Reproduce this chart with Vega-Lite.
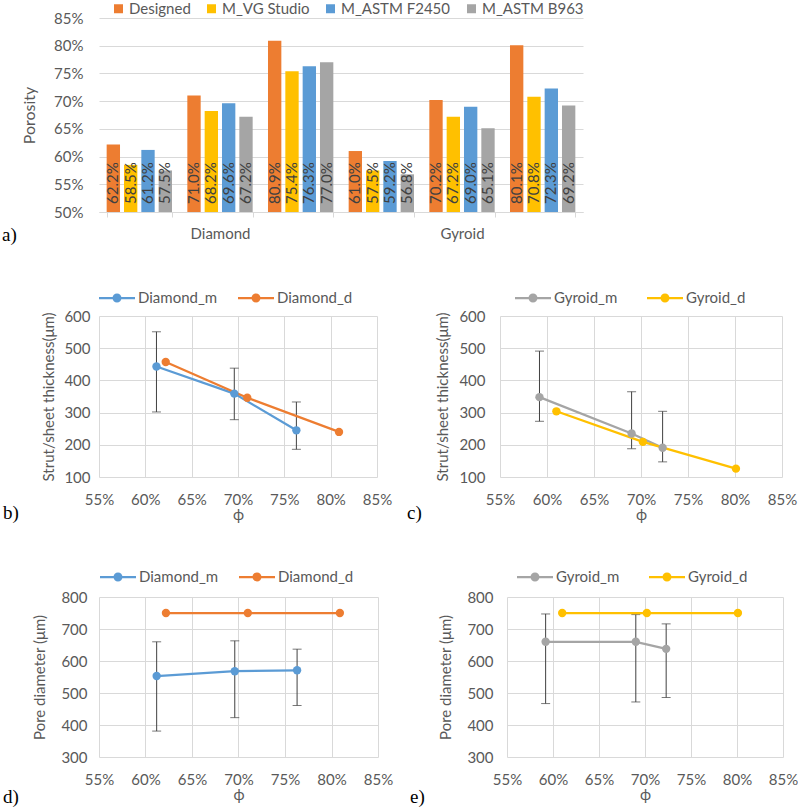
{
  "$schema": "https://vega.github.io/schema/vega-lite/v6.json",
  "background": "white",
  "padding": {"left": 2, "top": 1, "right": 0, "bottom": 0},
  "config": {
    "view": {"stroke": null},
    "font": "Lato",
    "axis": {
      "labelFont": "Lato", "labelFontSize": 15, "labelColor": "#595959", "labelOverlap": false, "labelFlush": false,
      "titleFont": "Lato", "titleFontSize": 15, "titleColor": "#595959", "titleFontWeight": "normal",
      "gridColor": "#d9d9d9", "domainColor": "#d9d9d9", "tickColor": "#d9d9d9"
    },
    "legend": {"labelFont": "Lato", "labelFontSize": 15, "labelColor": "#595959"},
    "title": {"font": "Liberation Serif", "fontSize": 19, "fontWeight": "normal", "color": "#000000"}
  },
  "datasets": {
    "bars": [
      {"group": "D1", "method": "Designed", "value": 0.622},
      {"group": "D1", "method": "M_VG Studio", "value": 0.585},
      {"group": "D1", "method": "M_ASTM F2450", "value": 0.612},
      {"group": "D1", "method": "M_ASTM B963", "value": 0.575},
      {"group": "D2", "method": "Designed", "value": 0.710},
      {"group": "D2", "method": "M_VG Studio", "value": 0.682},
      {"group": "D2", "method": "M_ASTM F2450", "value": 0.696},
      {"group": "D2", "method": "M_ASTM B963", "value": 0.672},
      {"group": "D3", "method": "Designed", "value": 0.809},
      {"group": "D3", "method": "M_VG Studio", "value": 0.754},
      {"group": "D3", "method": "M_ASTM F2450", "value": 0.763},
      {"group": "D3", "method": "M_ASTM B963", "value": 0.770},
      {"group": "G1", "method": "Designed", "value": 0.610},
      {"group": "G1", "method": "M_VG Studio", "value": 0.575},
      {"group": "G1", "method": "M_ASTM F2450", "value": 0.592},
      {"group": "G1", "method": "M_ASTM B963", "value": 0.568},
      {"group": "G2", "method": "Designed", "value": 0.702},
      {"group": "G2", "method": "M_VG Studio", "value": 0.672},
      {"group": "G2", "method": "M_ASTM F2450", "value": 0.690},
      {"group": "G2", "method": "M_ASTM B963", "value": 0.651},
      {"group": "G3", "method": "Designed", "value": 0.801},
      {"group": "G3", "method": "M_VG Studio", "value": 0.708},
      {"group": "G3", "method": "M_ASTM F2450", "value": 0.723},
      {"group": "G3", "method": "M_ASTM B963", "value": 0.692}
    ],
    "b": [
      {"series": "Diamond_m", "phi": 0.612, "v": 443, "lo": 302, "hi": 551},
      {"series": "Diamond_m", "phi": 0.696, "v": 359, "lo": 278, "hi": 438},
      {"series": "Diamond_m", "phi": 0.763, "v": 245, "lo": 186, "hi": 333},
      {"series": "Diamond_d", "phi": 0.622, "v": 457},
      {"series": "Diamond_d", "phi": 0.710, "v": 346},
      {"series": "Diamond_d", "phi": 0.809, "v": 240}
    ],
    "c": [
      {"series": "Gyroid_m", "phi": 0.592, "v": 348, "lo": 273, "hi": 491},
      {"series": "Gyroid_m", "phi": 0.690, "v": 235, "lo": 188, "hi": 365},
      {"series": "Gyroid_m", "phi": 0.723, "v": 191, "lo": 147, "hi": 304},
      {"series": "Gyroid_d", "phi": 0.610, "v": 304},
      {"series": "Gyroid_d", "phi": 0.702, "v": 209},
      {"series": "Gyroid_d", "phi": 0.801, "v": 126}
    ],
    "d": [
      {"series": "Diamond_m", "phi": 0.612, "v": 553, "lo": 381, "hi": 660},
      {"series": "Diamond_m", "phi": 0.696, "v": 568, "lo": 423, "hi": 663},
      {"series": "Diamond_m", "phi": 0.763, "v": 571, "lo": 461, "hi": 637},
      {"series": "Diamond_d", "phi": 0.622, "v": 750},
      {"series": "Diamond_d", "phi": 0.710, "v": 750},
      {"series": "Diamond_d", "phi": 0.809, "v": 750}
    ],
    "e": [
      {"series": "Gyroid_m", "phi": 0.592, "v": 660, "lo": 467, "hi": 747},
      {"series": "Gyroid_m", "phi": 0.690, "v": 660, "lo": 472, "hi": 745},
      {"series": "Gyroid_m", "phi": 0.723, "v": 638, "lo": 486, "hi": 716},
      {"series": "Gyroid_d", "phi": 0.610, "v": 750},
      {"series": "Gyroid_d", "phi": 0.702, "v": 750},
      {"series": "Gyroid_d", "phi": 0.801, "v": 750}
    ]
  },
  "spacing": 35,
  "resolve": {"scale": {"color": "independent"}, "legend": {"color": "independent"}},
  "vconcat": [
    {
      "width": 484, "height": 194,
      "data": {"name": "bars"},
      "title": {"text": "a)", "orient": "bottom", "anchor": "start", "frame": "group", "dx": -97, "dy": -19},
      "encoding": {
        "x": {"field": "group", "type": "nominal", "sort": ["D1", "D2", "D3", "G1", "G2", "G3"],
          "scale": {"paddingInner": 0.19, "paddingOuter": 0.095},
          "axis": {"title": null, "labelAngle": 0, "labelExpr": "datum.value == 'D2' ? 'Diamond' : datum.value == 'G2' ? 'Gyroid' : ''",
            "tickBand": "extent", "ticks": true, "tickSize": 5, "labelPadding": 9, "domain": true, "grid": false}},
        "xOffset": {"field": "method", "type": "nominal", "sort": ["Designed", "M_VG Studio", "M_ASTM F2450", "M_ASTM B963"],
          "scale": {"paddingInner": 0.23, "paddingOuter": 0}}
      },
      "layer": [
        {
          "mark": {"type": "bar"},
          "encoding": {
            "y": {"field": "value", "type": "quantitative", "title": "Porosity",
              "scale": {"domain": [0.5, 0.85], "nice": false, "zero": false},
              "axis": {"values": [0.5, 0.55, 0.6, 0.65, 0.7, 0.75, 0.8, 0.85], "tickCount": 20, "format": ".0%", "grid": true, "domain": false, "ticks": false,
                "labelPadding": 16, "titlePadding": 16, "titleFontSize": 16}},
            "y2": {"datum": 0.5},
            "color": {"field": "method", "type": "nominal",
              "scale": {"domain": ["Designed", "M_VG Studio", "M_ASTM F2450", "M_ASTM B963"], "range": ["#ED7D31", "#FFC000", "#5B9BD5", "#A5A5A5"]},
              "legend": {"orient": "none", "legendX": 12, "legendY": -17, "direction": "horizontal", "title": null,
                "symbolType": "square", "symbolSize": 81, "symbolStrokeWidth": 0, "columnPadding": 13, "labelOffset": 3}}
          }
        },
        {
          "mark": {"type": "text", "angle": 270, "align": "left", "baseline": "middle", "dx": 8, "fontSize": 15, "color": "#404040"},
          "encoding": {
            "y": {"datum": 0.5, "type": "quantitative", "title": "Porosity"},
            "text": {"field": "value", "type": "quantitative", "format": ".1%"}
          }
        }
      ]
    },
    {
      "spacing": 36,
      "resolve": {"scale": {"color": "independent"}, "legend": {"color": "independent"}},
      "vconcat": [
        {
          "spacing": 15,
          "resolve": {"scale": {"color": "independent"}, "legend": {"color": "independent"}},
          "hconcat": [
            {
              "width": 278, "height": 161,
              "data": {"name": "b"},
              "title": {"text": "b)", "orient": "bottom", "anchor": "start", "frame": "group", "dx": -96, "dy": -22},
              "encoding": {
                "x": {"field": "phi", "type": "quantitative", "scale": {"domain": [0.55, 0.85], "nice": false, "zero": false},
                  "axis": {"values": [0.55, 0.6, 0.65, 0.7, 0.75, 0.8, 0.85], "tickCount": 20, "format": ".0%", "title": "ϕ", "grid": true, "domain": false, "ticks": false, "labelPadding": 15, "titlePadding": 0}}
              },
              "layer": [
                {
                  "transform": [{"filter": "isValid(datum.lo)"}],
                  "mark": {"type": "errorbar", "ticks": {"size": 9, "color": "#404040"}, "rule": {"color": "#404040"}, "thickness": 1, "color": "#404040"},
                  "encoding": {"y": {"field": "lo", "type": "quantitative", "title": "Strut/sheet thickness(μm)"}, "y2": {"field": "hi"}}
                },
                {
                  "mark": {"type": "line", "strokeWidth": 2.25},
                  "encoding": {
                    "y": {"field": "v", "type": "quantitative", "title": "Strut/sheet thickness(μm)"},
                    "color": {"field": "series", "type": "nominal", "scale": {"domain": ["Diamond_m", "Diamond_d"], "range": ["#5B9BD5", "#ED7D31"]},
                      "legend": {"orient": "none", "legendX": 0, "legendY": -36, "direction": "horizontal", "title": null,
                        "symbolType": "M-1,-0.0625L-0.24,-0.0625L-0.24,0.0625L-1,0.0625Z M0.24,-0.0625L1,-0.0625L1,0.0625L0.24,0.0625Z M-0.25,0A0.25,0.25 0 1,1 0.25,0A0.25,0.25 0 1,1 -0.25,0Z",
                        "symbolSize": 1296, "symbolStrokeWidth": 0, "columnPadding": 20, "labelOffset": 3}}
                  }
                },
                {
                  "mark": {"type": "point", "filled": true, "size": 70, "opacity": 1},
                  "encoding": {
                    "y": {"field": "v", "type": "quantitative", "title": "Strut/sheet thickness(μm)",
                      "scale": {"domain": [100, 600], "nice": false, "zero": false},
                      "axis": {"values": [100, 200, 300, 400, 500, 600], "tickCount": 20, "grid": true, "domain": false, "ticks": false, "labelPadding": 9, "titlePadding": 7}},
                    "color": {"field": "series", "type": "nominal", "scale": {"domain": ["Diamond_m", "Diamond_d"], "range": ["#5B9BD5", "#ED7D31"]},
                      "legend": {"orient": "none", "legendX": 0, "legendY": -36, "direction": "horizontal", "title": null,
                        "symbolType": "M-1,-0.0625L-0.24,-0.0625L-0.24,0.0625L-1,0.0625Z M0.24,-0.0625L1,-0.0625L1,0.0625L0.24,0.0625Z M-0.25,0A0.25,0.25 0 1,1 0.25,0A0.25,0.25 0 1,1 -0.25,0Z",
                        "symbolSize": 1296, "symbolStrokeWidth": 0, "columnPadding": 20, "labelOffset": 3}}
                  }
                }
              ]
            },
            {
              "width": 282, "height": 161,
              "data": {"name": "c"},
              "title": {"text": "c)", "orient": "bottom", "anchor": "start", "frame": "group", "dx": -93, "dy": -22},
              "encoding": {
                "x": {"field": "phi", "type": "quantitative", "scale": {"domain": [0.55, 0.85], "nice": false, "zero": false},
                  "axis": {"values": [0.55, 0.6, 0.65, 0.7, 0.75, 0.8, 0.85], "tickCount": 20, "format": ".0%", "title": "ϕ", "grid": true, "domain": false, "ticks": false, "labelPadding": 15, "titlePadding": 0}}
              },
              "layer": [
                {
                  "transform": [{"filter": "isValid(datum.lo)"}],
                  "mark": {"type": "errorbar", "ticks": {"size": 9, "color": "#404040"}, "rule": {"color": "#404040"}, "thickness": 1, "color": "#404040"},
                  "encoding": {"y": {"field": "lo", "type": "quantitative", "title": "Strut/sheet thickness(μm)"}, "y2": {"field": "hi"}}
                },
                {
                  "mark": {"type": "line", "strokeWidth": 2.25},
                  "encoding": {
                    "y": {"field": "v", "type": "quantitative", "title": "Strut/sheet thickness(μm)"},
                    "color": {"field": "series", "type": "nominal", "scale": {"domain": ["Gyroid_m", "Gyroid_d"], "range": ["#A5A5A5", "#FFC000"]},
                      "legend": {"orient": "none", "legendX": 15, "legendY": -36, "direction": "horizontal", "title": null,
                        "symbolType": "M-1,-0.0625L-0.24,-0.0625L-0.24,0.0625L-1,0.0625Z M0.24,-0.0625L1,-0.0625L1,0.0625L0.24,0.0625Z M-0.25,0A0.25,0.25 0 1,1 0.25,0A0.25,0.25 0 1,1 -0.25,0Z",
                        "symbolSize": 1296, "symbolStrokeWidth": 0, "columnPadding": 29, "labelOffset": 3}}
                  }
                },
                {
                  "mark": {"type": "point", "filled": true, "size": 70, "opacity": 1},
                  "encoding": {
                    "y": {"field": "v", "type": "quantitative", "title": "Strut/sheet thickness(μm)",
                      "scale": {"domain": [100, 600], "nice": false, "zero": false},
                      "axis": {"values": [100, 200, 300, 400, 500, 600], "tickCount": 20, "grid": true, "domain": false, "ticks": false, "labelPadding": 15, "titlePadding": 8}},
                    "color": {"field": "series", "type": "nominal", "scale": {"domain": ["Gyroid_m", "Gyroid_d"], "range": ["#A5A5A5", "#FFC000"]},
                      "legend": {"orient": "none", "legendX": 15, "legendY": -36, "direction": "horizontal", "title": null,
                        "symbolType": "M-1,-0.0625L-0.24,-0.0625L-0.24,0.0625L-1,0.0625Z M0.24,-0.0625L1,-0.0625L1,0.0625L0.24,0.0625Z M-0.25,0A0.25,0.25 0 1,1 0.25,0A0.25,0.25 0 1,1 -0.25,0Z",
                        "symbolSize": 1296, "symbolStrokeWidth": 0, "columnPadding": 29, "labelOffset": 3}}
                  }
                }
              ]
            }
          ]
        },
        {
          "spacing": 17,
          "resolve": {"scale": {"color": "independent"}, "legend": {"color": "independent"}},
          "hconcat": [
            {
              "width": 279, "height": 160,
              "data": {"name": "d"},
              "title": {"text": "d)", "orient": "bottom", "anchor": "start", "frame": "group", "dx": -96, "dy": -18},
              "encoding": {
                "x": {"field": "phi", "type": "quantitative", "scale": {"domain": [0.55, 0.85], "nice": false, "zero": false},
                  "axis": {"values": [0.55, 0.6, 0.65, 0.7, 0.75, 0.8, 0.85], "tickCount": 20, "format": ".0%", "title": "ϕ", "grid": true, "domain": false, "ticks": false, "labelPadding": 15, "titlePadding": 0}}
              },
              "layer": [
                {
                  "transform": [{"filter": "isValid(datum.lo)"}],
                  "mark": {"type": "errorbar", "ticks": {"size": 9, "color": "#404040"}, "rule": {"color": "#404040"}, "thickness": 1, "color": "#404040"},
                  "encoding": {"y": {"field": "lo", "type": "quantitative", "title": "Pore diameter (μm)"}, "y2": {"field": "hi"}}
                },
                {
                  "mark": {"type": "line", "strokeWidth": 2.25},
                  "encoding": {
                    "y": {"field": "v", "type": "quantitative", "title": "Pore diameter (μm)"},
                    "color": {"field": "series", "type": "nominal", "scale": {"domain": ["Diamond_m", "Diamond_d"], "range": ["#5B9BD5", "#ED7D31"]},
                      "legend": {"orient": "none", "legendX": 1, "legendY": -38, "direction": "horizontal", "title": null,
                        "symbolType": "M-1,-0.0625L-0.24,-0.0625L-0.24,0.0625L-1,0.0625Z M0.24,-0.0625L1,-0.0625L1,0.0625L0.24,0.0625Z M-0.25,0A0.25,0.25 0 1,1 0.25,0A0.25,0.25 0 1,1 -0.25,0Z",
                        "symbolSize": 1296, "symbolStrokeWidth": 0, "columnPadding": 20, "labelOffset": 3}}
                  }
                },
                {
                  "mark": {"type": "point", "filled": true, "size": 70, "opacity": 1},
                  "encoding": {
                    "y": {"field": "v", "type": "quantitative", "title": "Pore diameter (μm)",
                      "scale": {"domain": [300, 800], "nice": false, "zero": false},
                      "axis": {"values": [300, 400, 500, 600, 700, 800], "tickCount": 20, "grid": true, "domain": false, "ticks": false, "labelPadding": 12, "titlePadding": 13}},
                    "color": {"field": "series", "type": "nominal", "scale": {"domain": ["Diamond_m", "Diamond_d"], "range": ["#5B9BD5", "#ED7D31"]},
                      "legend": {"orient": "none", "legendX": 1, "legendY": -38, "direction": "horizontal", "title": null,
                        "symbolType": "M-1,-0.0625L-0.24,-0.0625L-0.24,0.0625L-1,0.0625Z M0.24,-0.0625L1,-0.0625L1,0.0625L0.24,0.0625Z M-0.25,0A0.25,0.25 0 1,1 0.25,0A0.25,0.25 0 1,1 -0.25,0Z",
                        "symbolSize": 1296, "symbolStrokeWidth": 0, "columnPadding": 20, "labelOffset": 3}}
                  }
                }
              ]
            },
            {
              "width": 276, "height": 160,
              "data": {"name": "e"},
              "title": {"text": "e)", "orient": "bottom", "anchor": "start", "frame": "group", "dx": -97, "dy": -18},
              "encoding": {
                "x": {"field": "phi", "type": "quantitative", "scale": {"domain": [0.55, 0.85], "nice": false, "zero": false},
                  "axis": {"values": [0.55, 0.6, 0.65, 0.7, 0.75, 0.8, 0.85], "tickCount": 20, "format": ".0%", "title": "ϕ", "grid": true, "domain": false, "ticks": false, "labelPadding": 15, "titlePadding": 0}}
              },
              "layer": [
                {
                  "transform": [{"filter": "isValid(datum.lo)"}],
                  "mark": {"type": "errorbar", "ticks": {"size": 9, "color": "#404040"}, "rule": {"color": "#404040"}, "thickness": 1, "color": "#404040"},
                  "encoding": {"y": {"field": "lo", "type": "quantitative", "title": "Pore diameter (μm)"}, "y2": {"field": "hi"}}
                },
                {
                  "mark": {"type": "line", "strokeWidth": 2.25},
                  "encoding": {
                    "y": {"field": "v", "type": "quantitative", "title": "Pore diameter (μm)"},
                    "color": {"field": "series", "type": "nominal", "scale": {"domain": ["Gyroid_m", "Gyroid_d"], "range": ["#A5A5A5", "#FFC000"]},
                      "legend": {"orient": "none", "legendX": 10, "legendY": -38, "direction": "horizontal", "title": null,
                        "symbolType": "M-1,-0.0625L-0.24,-0.0625L-0.24,0.0625L-1,0.0625Z M0.24,-0.0625L1,-0.0625L1,0.0625L0.24,0.0625Z M-0.25,0A0.25,0.25 0 1,1 0.25,0A0.25,0.25 0 1,1 -0.25,0Z",
                        "symbolSize": 1296, "symbolStrokeWidth": 0, "columnPadding": 29, "labelOffset": 3}}
                  }
                },
                {
                  "mark": {"type": "point", "filled": true, "size": 70, "opacity": 1},
                  "encoding": {
                    "y": {"field": "v", "type": "quantitative", "title": "Pore diameter (μm)",
                      "scale": {"domain": [300, 800], "nice": false, "zero": false},
                      "axis": {"values": [300, 400, 500, 600, 700, 800], "tickCount": 20, "grid": true, "domain": false, "ticks": false, "labelPadding": 14, "titlePadding": 13}},
                    "color": {"field": "series", "type": "nominal", "scale": {"domain": ["Gyroid_m", "Gyroid_d"], "range": ["#A5A5A5", "#FFC000"]},
                      "legend": {"orient": "none", "legendX": 10, "legendY": -38, "direction": "horizontal", "title": null,
                        "symbolType": "M-1,-0.0625L-0.24,-0.0625L-0.24,0.0625L-1,0.0625Z M0.24,-0.0625L1,-0.0625L1,0.0625L0.24,0.0625Z M-0.25,0A0.25,0.25 0 1,1 0.25,0A0.25,0.25 0 1,1 -0.25,0Z",
                        "symbolSize": 1296, "symbolStrokeWidth": 0, "columnPadding": 29, "labelOffset": 3}}
                  }
                }
              ]
            }
          ]
        }
      ]
    }
  ]
}
